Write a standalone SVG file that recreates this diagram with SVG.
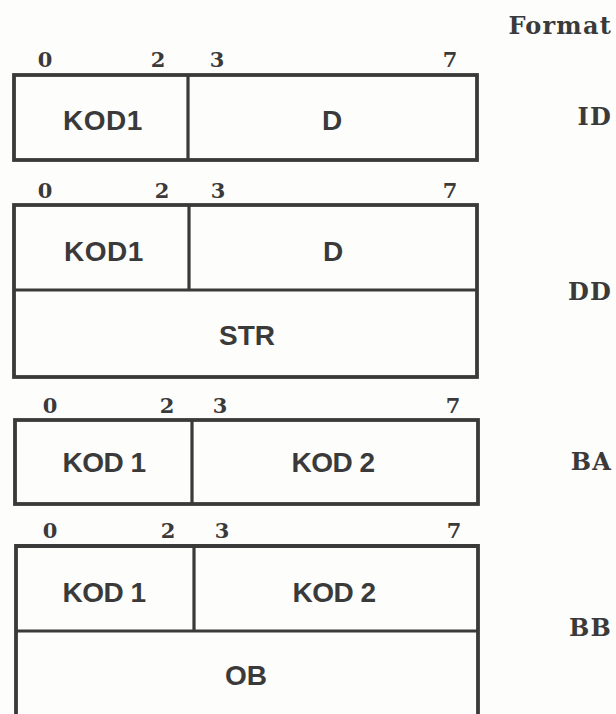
<svg xmlns="http://www.w3.org/2000/svg" width="616" height="714" viewBox="0 0 616 714">
<style>
.box{fill:none;stroke:#3a3a3a;stroke-width:3.8;stroke-linejoin:miter}
.div{stroke:#3a3a3a;stroke-width:3.2}
.bit{font-family:"DejaVu Serif","Liberation Serif",serif;font-weight:bold;font-size:21px;fill:#3a3a3a;text-anchor:middle}
.fld{font-family:"Liberation Sans",Arial,sans-serif;font-weight:bold;font-size:28px;fill:#3a3a3a;text-anchor:middle}
.fmt{font-family:"DejaVu Serif","Liberation Serif",serif;font-weight:bold;font-size:24px;fill:#3a3a3a;text-anchor:end;letter-spacing:1.2px}
</style>
<rect width="616" height="714" fill="#fdfdfb"/>
<text class="fmt" x="612" y="34">Format</text>

<g id="fmt-ID">
<text class="bit" x="45" y="67">0</text><text class="bit" x="158" y="67">2</text><text class="bit" x="217" y="67">3</text><text class="bit" x="450" y="67">7</text>
<rect class="box" x="14" y="75" width="463" height="85"/>
<line class="div" x1="188" y1="75" x2="188" y2="160"/>
<text class="fld" x="103" y="130" letter-spacing="0.5">KOD1</text>
<text class="fld" x="332" y="130">D</text>
<text class="fmt" x="612" y="125" letter-spacing="3">ID</text>
</g>

<g id="fmt-DD">
<text class="bit" x="45" y="198">0</text><text class="bit" x="162" y="198">2</text><text class="bit" x="218" y="198">3</text><text class="bit" x="450" y="198">7</text>
<rect class="box" x="14" y="205" width="463" height="172"/>
<line class="div" x1="14" y1="290" x2="477" y2="290"/>
<line class="div" x1="189" y1="205" x2="189" y2="290"/>
<text class="fld" x="104" y="261" letter-spacing="0.5">KOD1</text>
<text class="fld" x="333" y="261">D</text>
<text class="fld" x="247" y="345">STR</text>
<text class="fmt" x="612" y="300" letter-spacing="3">DD</text>
</g>

<g id="fmt-BA">
<text class="bit" x="50" y="413">0</text><text class="bit" x="167" y="413">2</text><text class="bit" x="220" y="413">3</text><text class="bit" x="453" y="413">7</text>
<rect class="box" x="15" y="420" width="463" height="84"/>
<line class="div" x1="192" y1="420" x2="192" y2="504"/>
<text class="fld" x="104" y="472" letter-spacing="-0.5">KOD 1</text>
<text class="fld" x="333" y="472" letter-spacing="-0.5">KOD 2</text>
<text class="fmt" x="612" y="470" letter-spacing="3">BA</text>
</g>

<g id="fmt-BB">
<text class="bit" x="50" y="538">0</text><text class="bit" x="168" y="538">2</text><text class="bit" x="222" y="538">3</text><text class="bit" x="454" y="538">7</text>
<path class="box" d="M16,720 V546 H478 V720"/>
<line class="div" x1="16" y1="631" x2="478" y2="631"/>
<line class="div" x1="194" y1="546" x2="194" y2="631"/>
<text class="fld" x="104" y="602" letter-spacing="-0.5">KOD 1</text>
<text class="fld" x="334" y="602" letter-spacing="-0.5">KOD 2</text>
<text class="fld" x="246" y="685">OB</text>
<text class="fmt" x="612" y="636" letter-spacing="3">BB</text>
</g>

<g id="connectors"></g>
</svg>
